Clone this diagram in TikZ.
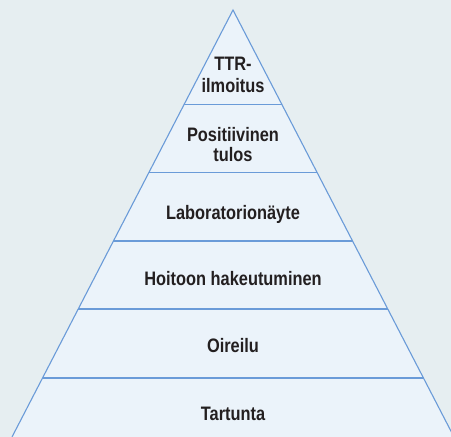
\documentclass[tikz,border=0pt]{standalone}
\usepackage{fontspec}
\newfontfamily\labfont[FakeStretch=0.84]{Liberation Sans}
\definecolor{bgc}{HTML}{E6EEF1}
\definecolor{pyrfill}{HTML}{EBF3FA}
\definecolor{pyrline}{HTML}{6A9BD8}
\definecolor{txt}{HTML}{231F20}
\begin{document}
\begin{tikzpicture}[x=1pt,y=1pt,
  lab/.style={text=txt,font=\labfont\bfseries\fontsize{19.5}{21}\selectfont,anchor=base,inner sep=0pt,align=center},
  layerline/.style={draw=pyrline,line width=1.1pt}]
\useasboundingbox (0,0) rectangle (451,437);
\fill[bgc] (0,0) rectangle (451,437);
\clip (0,0) rectangle (451,437);
% pyramid
\coordinate (apex) at (233,427);
\coordinate (bl) at (12,0);
\coordinate (br) at (454,0);
\fill[pyrfill] (apex) -- (br) -- (bl) -- cycle;
\draw[layerline,line join=miter] (bl) -- (apex) -- (br);
% layer lines
\coordinate (l1a) at (184.1,332.5); \coordinate (l1b) at (281.9,332.5);
\coordinate (l2a) at (148.8,264.3); \coordinate (l2b) at (317.2,264.3);
\coordinate (l3a) at (113.4,196);   \coordinate (l3b) at (352.6,196);
\coordinate (l4a) at (78.2,128);    \coordinate (l4b) at (387.8,128);
\coordinate (l5a) at (42.5,59);     \coordinate (l5b) at (423.5,59);
\draw[layerline] (l1a) -- (l1b);
\draw[layerline] (l2a) -- (l2b);
\draw[layerline] (l3a) -- (l3b);
\draw[layerline] (l4a) -- (l4b);
\draw[layerline] (l5a) -- (l5b);
% labels
\node[lab] (t1a) at (233,366) {TTR-};
\node[lab] (t1b) at (233,344) {ilmoitus};
\node[lab] (t2a) at (233,295.3) {Positiivinen};
\node[lab] (t2b) at (233,275.3) {tulos};
\node[lab] (t3) at (233,217.7) {Laboratorionäyte};
\node[lab] (t4) at (233,151) {Hoitoon hakeutuminen};
\node[lab] (t5) at (233,84) {Oireilu};
\node[lab] (t6) at (233,16) {Tartunta};
\end{tikzpicture}
\end{document}
